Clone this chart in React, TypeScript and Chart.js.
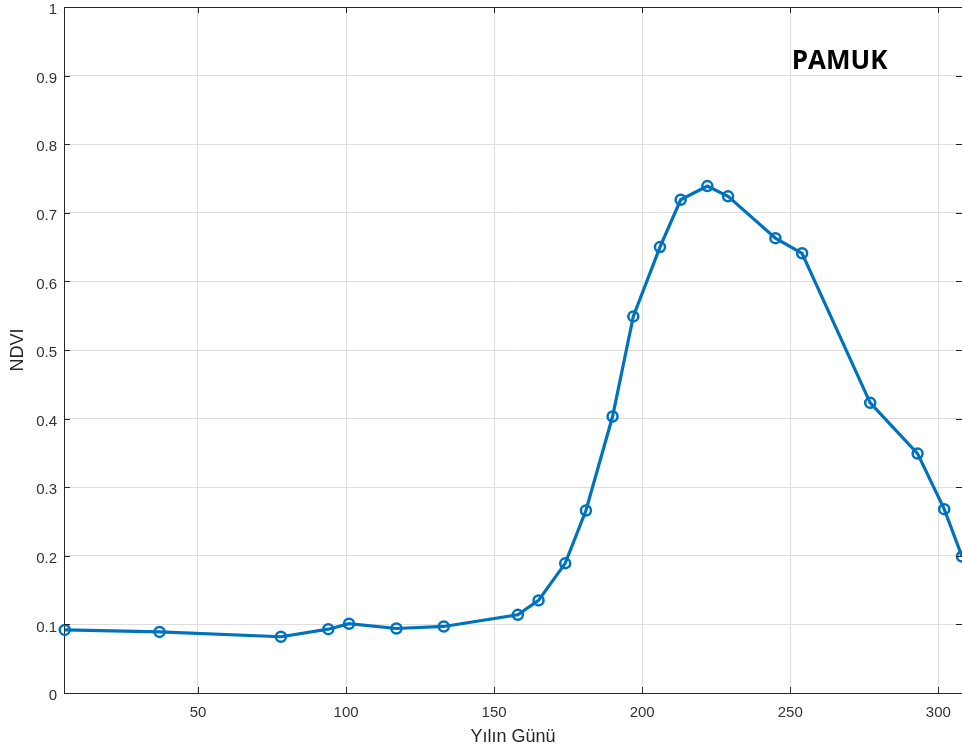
import React, { useEffect, useRef } from "react";
import { Chart, registerables } from "chart.js";

Chart.register(...registerables);

const days = [5, 37, 78, 94, 101, 117, 133, 158, 165, 174, 181, 190, 197, 206, 213, 222, 229, 245, 254, 277, 293, 302, 308];
const ndvi = [0.092, 0.089, 0.082, 0.093, 0.101, 0.094, 0.097, 0.114, 0.135, 0.189, 0.266, 0.403, 0.549, 0.650, 0.719, 0.739, 0.724, 0.663, 0.641, 0.423, 0.349, 0.268, 0.199];
const xTicks = [50, 100, 150, 200, 250, 300];
const yTicks = [0, 0.1, 0.2, 0.3, 0.4, 0.5, 0.6, 0.7, 0.8, 0.9, 1];
const xTitle = "Yılın Günü";
const yTitle = "NDVI";
const label = "PAMUK";

const AXIS = "#262626";
const LINE = "#0072BD";

const boxPlugin = {
  id: "boxPlugin",
  afterDraw(chart: any) {
    const { ctx, chartArea: a, scales } = chart;
    const x = scales.x;
    const y = scales.y;
    ctx.save();
    ctx.strokeStyle = AXIS;
    ctx.lineWidth = 1;
    ctx.beginPath();
    ctx.moveTo(a.left, a.top + 0.5);
    ctx.lineTo(a.right, a.top + 0.5);
    const t = 6;
    for (const v of xTicks) {
      const px = Math.round(x.getPixelForValue(v)) + 0.5;
      ctx.moveTo(px, a.bottom);
      ctx.lineTo(px, a.bottom - t);
      ctx.moveTo(px, a.top);
      ctx.lineTo(px, a.top + t);
    }
    for (const v of yTicks) {
      const py = Math.round(y.getPixelForValue(v)) + 0.5;
      ctx.moveTo(a.left, py);
      ctx.lineTo(a.left + t, py);
      ctx.moveTo(a.right, py);
      ctx.lineTo(a.right - t, py);
    }
    ctx.stroke();
    ctx.fillStyle = "#000";
    ctx.font = "bold 26px 'Open Sans'";
    ctx.textBaseline = "middle";
    ctx.textAlign = "left";
    ctx.fillText(label, x.getPixelForValue(250.5), 62);
    ctx.restore();
  },
};

export default function App() {
  const ref = useRef<HTMLCanvasElement>(null);
  useEffect(() => {
    document.body.style.margin = "0";
    const chart = new Chart(ref.current!, {
      type: "line",
      data: {
        datasets: [
          {
            data: days.map((d, i) => ({ x: d, y: ndvi[i] })),
            borderColor: LINE,
            borderWidth: 3.2,
            pointRadius: 5,
            pointBorderWidth: 2.5,
            pointBorderColor: LINE,
            pointBackgroundColor: "rgba(0,0,0,0)",
            tension: 0,
            clip: false as any,
          },
        ],
      },
      options: {
        animation: false,
        responsive: false,
        maintainAspectRatio: false,
        layout: { autoPadding: false, padding: { top: 7, left: 0, right: 0, bottom: 0 } },
        plugins: { legend: { display: false }, tooltip: { enabled: false } },
        scales: {
          x: {
            type: "linear",
            min: 4.75,
            max: 308,
            afterBuildTicks: (s: any) => {
              s.ticks = xTicks.map((v) => ({ value: v }));
            },
            afterFit: (s: any) => {
              s.height = 58;
              s.paddingLeft = 0;
              s.paddingRight = 0;
            },
            grid: { color: "#dedede", drawTicks: false },
            border: { color: AXIS, width: 1 },
            ticks: {
              padding: 11,
              color: "#333",
              font: { family: "Arial, 'Liberation Sans'", size: 15 },
              maxRotation: 0,
            },
            title: {
              display: true,
              text: xTitle,
              color: AXIS,
              font: { family: "Arial, 'Liberation Sans'", size: 18 },
              padding: { top: 0, bottom: 3 },
            },
          },
          y: {
            type: "linear",
            min: 0,
            max: 1,
            afterBuildTicks: (s: any) => {
              s.ticks = yTicks.map((v) => ({ value: v }));
            },
            afterFit: (s: any) => {
              s.width = 64;
              s.paddingTop = 0;
              s.paddingBottom = 0;
            },
            grid: { color: "#dedede", drawTicks: false },
            border: { color: AXIS, width: 1 },
            ticks: {
              padding: 7,
              labelOffset: 3,
              color: "#333",
              font: { family: "Arial, 'Liberation Sans'", size: 15 },
              callback: (v: any) => String(Math.round(Number(v) * 10) / 10),
            },
            title: {
              display: true,
              text: yTitle,
              color: AXIS,
              font: { family: "Arial, 'Liberation Sans'", size: 18 },
              padding: { top: 7, bottom: 0 },
            },
          },
        },
      },
      plugins: [boxPlugin],
    });
    return () => chart.destroy();
  }, []);
  return (
    <div style={{ position: "fixed", left: 0, top: 0, width: 962, height: 751, background: "#fff" }}>
      <canvas ref={ref} width={962} height={751} style={{ display: "block" }} />
    </div>
  );
}
